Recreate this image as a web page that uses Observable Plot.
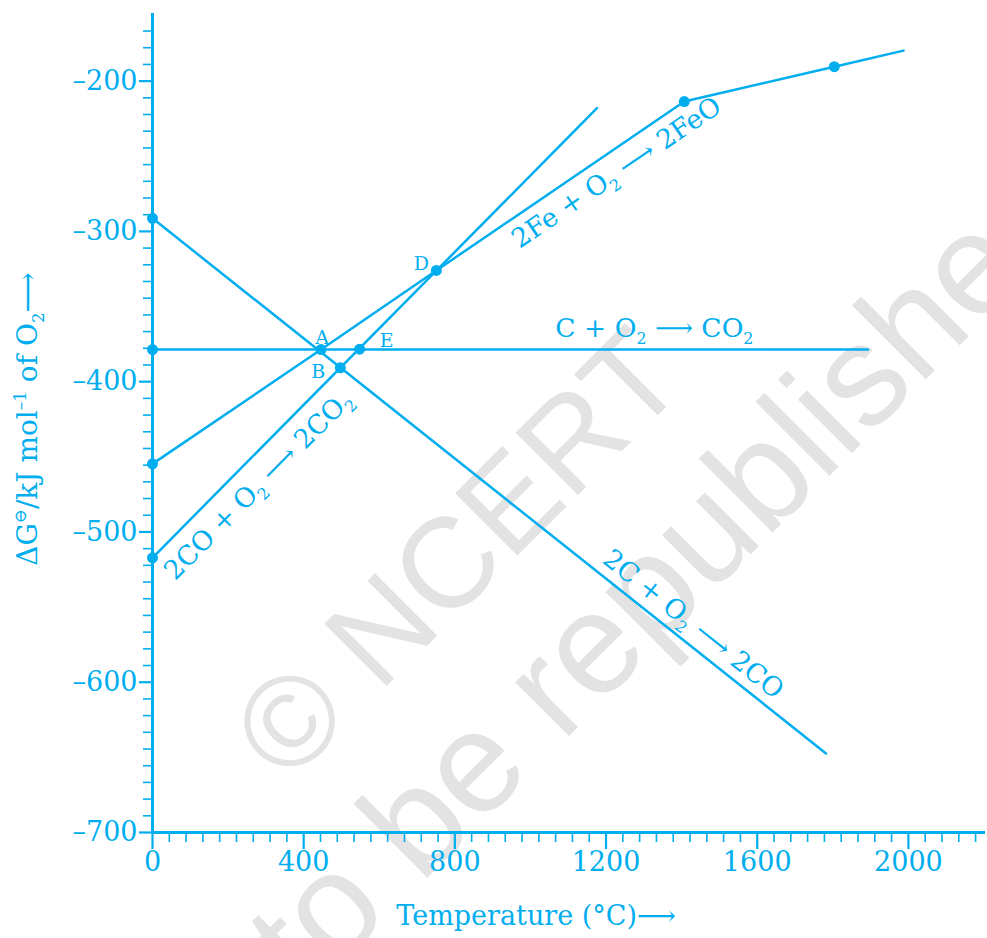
<!DOCTYPE html>
<html><head><meta charset="utf-8">
<script src="https://cdn.jsdelivr.net/npm/d3@7"></script>
<script src="https://cdn.jsdelivr.net/npm/@observablehq/plot@0.6"></script>
<style>
html,body{margin:0;padding:0;background:#fff;}
#wrap{position:relative;width:987px;height:938px;overflow:hidden;background:#fff;}
#wm{position:absolute;left:0;top:0;}
#chart{position:absolute;left:0;top:0;}
</style></head><body>
<div id="wrap"><svg id="wm" width="987" height="938"></svg><div id="chart"></div></div>
<script>
// ---- data ----
const xTicks = [0, 400, 800, 1200, 1600, 2000];
const yTicks = [-700, -600, -500, -400, -300, -200];

// [temperature °C, ΔG kJ/mol O2]
const cToCO2  = [[0, -378.6], [1893, -378.6]];
const cToCO   = [[0, -291.3], [1782, -647.4]];
const coToCO2 = [[0, -517.2], [1176, -218.0]];
const feToFeO = [[0, -454.7], [446, -378.6], [751, -326.0], [1407, -213.6], [1804, -190.4], [1987, -179.7]];

const axisDots = [[0, -291.3], [0, -378.6], [0, -454.7], [0, -517.2]];
const feDots   = [[1407, -213.6], [1804, -190.4]];
const pointA = [{name: "A", t: 446, g: -378.6}];
const pointB = [{name: "B", t: 497, g: -390.8}];
const pointE = [{name: "E", t: 548, g: -378.4}];
const pointD = [{name: "D", t: 751, g: -326.0}];

const reactionText  = ["C + O_{2} \u27F6 CO_{2}", "2C + O_{2} \u27F6 2CO", "2CO + O_{2} \u27F6 2CO_{2}", "2Fe + O_{2} \u27F6 2FeO"];
const reactionT     = [1328, 1431, 280, 1228];
const reactionG     = [-364.7, -561.5, -469, -261];
const reactionAngle = [0, 38.5, -45.2, -34.2];
const reactions = reactionText.map((text, i) => ({text, t: reactionT[i], g: reactionG[i], angle: reactionAngle[i]}));

const xTitle = "Temperature (\u00B0C)\u27F6";
const yTitle = "\u0394G^{\u2296}/kJ mol^{\u20131} of O_{2}\u27F6";

// ---- style ----
const C = "#00AEEF";
const SERIF = "DejaVu Serif, Liberation Serif, serif";

const xMinor = d3.range(0, 2204, 400 / 9).filter(v => !xTicks.some(t => Math.abs(t - v) < 1e-6));
const yMinor = d3.range(-700, -160, 100 / 9).filter(v => !yTicks.some(t => Math.abs(t - v) < 1e-6));

const lineOpts = {x: d => d[0], y: d => d[1], stroke: C, strokeWidth: 2.5};
const dotOpts = {x: d => d[0], y: d => d[1], fill: C, r: 5.5};

const chart = Plot.plot({
  width: 987, height: 938,
  marginLeft: 152, marginRight: 2, marginTop: 13, marginBottom: 106,
  style: {color: C, background: "transparent", fontFamily: SERIF},
  x: {domain: [0, 2204]},
  y: {domain: [-700, -155]},
  marks: [
    Plot.axisX({ticks: xMinor, tickSize: 10, text: null, strokeWidth: 1.6, label: null}),
    Plot.axisX({ticks: xTicks, tickSize: 17, tickPadding: 2, strokeWidth: 2.2, fontSize: 27, fontFamily: SERIF, label: null, tickFormat: d => String(d)}),
    Plot.axisY({ticks: yMinor, tickSize: 9, text: null, strokeWidth: 1.6, label: null}),
    Plot.axisY({ticks: yTicks, tickSize: 13, tickPadding: 2, strokeWidth: 2.2, fontSize: 27, fontFamily: SERIF, label: null, tickFormat: d => "\u2013" + Math.abs(d)}),
    Plot.ruleX([0], {stroke: C, strokeWidth: 3}),
    Plot.ruleY([-700], {stroke: C, strokeWidth: 3}),
    Plot.line(cToCO2, lineOpts),
    Plot.line(cToCO, lineOpts),
    Plot.line(coToCO2, lineOpts),
    Plot.line(feToFeO, lineOpts),
    Plot.dot(axisDots, dotOpts),
    Plot.dot(feDots, dotOpts),
    Plot.dot([...pointA, ...pointB, ...pointE, ...pointD], {x: "t", y: "g", fill: C, r: 5.5}),
    Plot.text(pointA, {x: "t", y: "g", text: "name", dx: 1, dy: -12, fontSize: 19, fill: C, fontFamily: SERIF}),
    Plot.text(pointB, {x: "t", y: "g", text: "name", dx: -22, dy: 4, fontSize: 19, fill: C, fontFamily: SERIF}),
    Plot.text(pointE, {x: "t", y: "g", text: "name", dx: 27, dy: -8, fontSize: 19, fill: C, fontFamily: SERIF}),
    Plot.text(pointD, {x: "t", y: "g", text: "name", dx: -15, dy: -7, fontSize: 19, fill: C, fontFamily: SERIF}),
    Plot.text(reactions, {x: "t", y: "g", text: "text", rotate: "angle", fontSize: 26.5, fill: C, fontFamily: SERIF}),
    Plot.text([xTitle], {frameAnchor: "bottom", textAnchor: "middle", text: d => d, dx: -33, dy: 92, fontSize: 27, fill: C, fontFamily: SERIF}),
    Plot.text([yTitle], {frameAnchor: "left", textAnchor: "middle", text: d => d, dx: -124, dy: -4, rotate: -90, fontSize: 28, fill: C, fontFamily: SERIF})
  ]
});
document.getElementById("chart").appendChild(chart);

// subscripts / superscripts written as _{..} and ^{..}
function richify(node) {
  const el = d3.select(node);
  const s = node.textContent;
  const fs = parseFloat(getComputedStyle(node).fontSize) || 24;
  el.text(null);
  const re = /([_^])\{([^}]*)\}/g;
  let last = 0, shift = 0, m;
  const push = (str, kind) => {
    if (!str) return;
    const target = kind === "_" ? 0.25 * fs : kind === "^" ? -0.42 * fs : 0;
    const ts = el.append("tspan").text(str).attr("dy", target - shift);
    if (kind) ts.attr("font-size", fs * 0.6);
    shift = target;
  };
  while ((m = re.exec(s))) { push(s.slice(last, m.index), ""); push(m[2], m[1]); last = re.lastIndex; }
  push(s.slice(last), "");
}
const root = chart.tagName.toLowerCase() === "svg" ? chart : chart.querySelector("svg");
Array.from(root.querySelectorAll("text")).filter(n => /[_^]\{/.test(n.textContent)).forEach(richify);

// watermark
const wm = d3.select("#wm");
const wmLines = [["\u00A9 NCERT", 457, 553, 128], ["not to be republished", 578, 657, 144]];
wmLines.forEach(([t, x, y, fs]) => {
  wm.append("text").text(t)
    .attr("transform", `translate(${x},${y}) rotate(-45)`)
    .attr("text-anchor", "middle").attr("dominant-baseline", "central")
    .attr("font-family", "Liberation Sans, Arial, sans-serif").attr("font-size", fs)
    .attr("fill", "#e3e3e3");
});
</script>
</body></html>
